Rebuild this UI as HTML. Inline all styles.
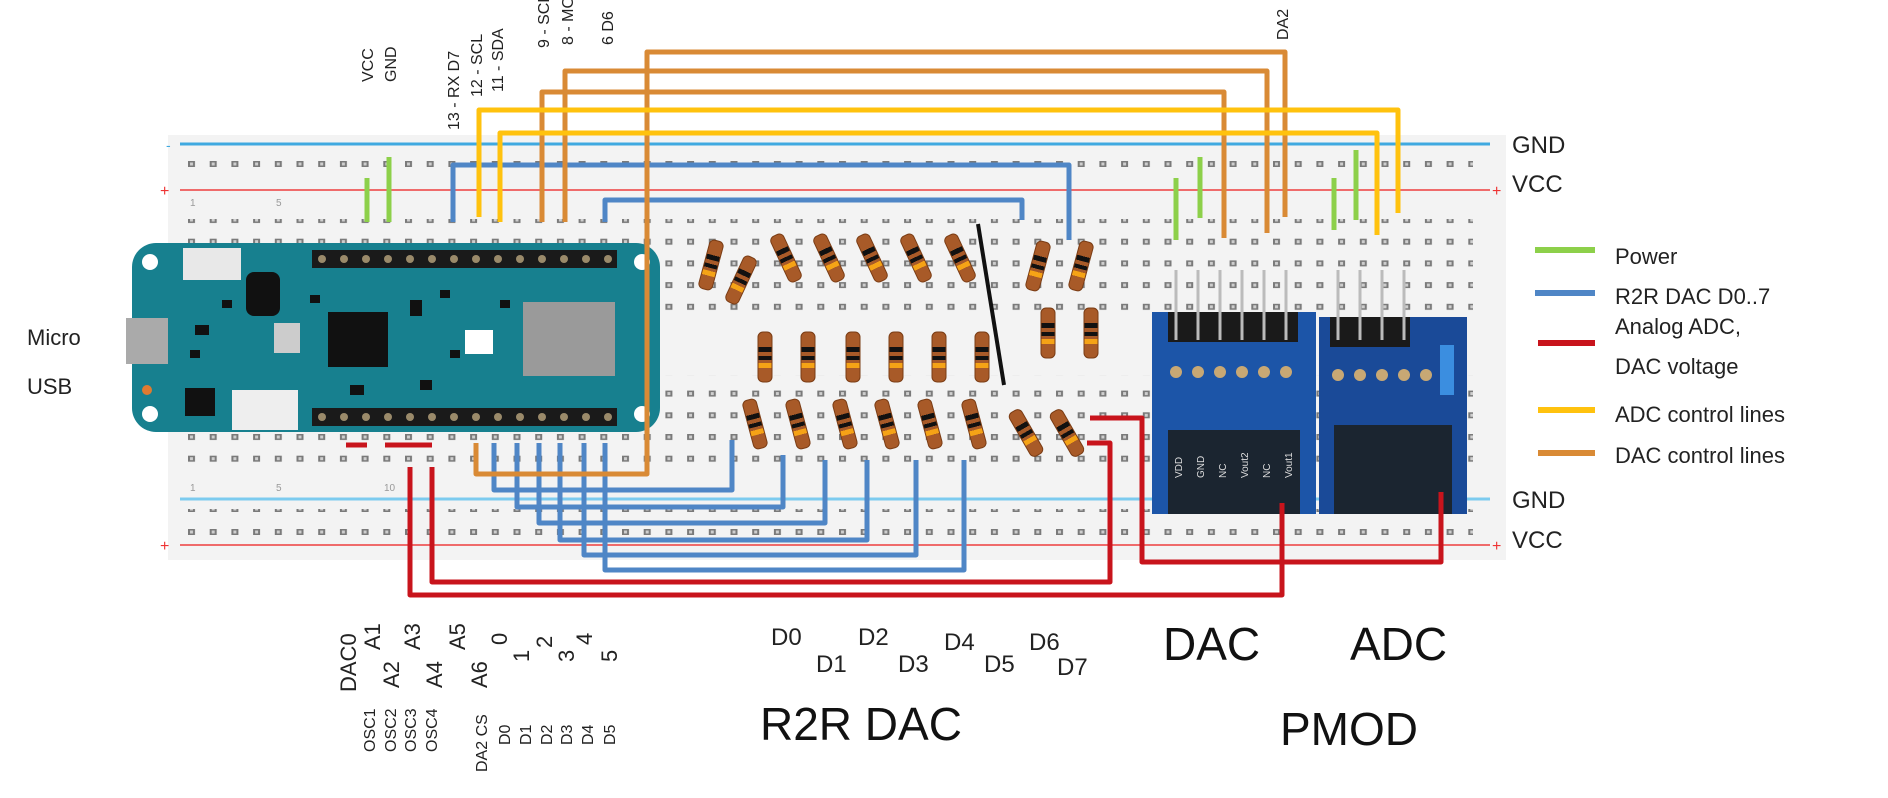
<!DOCTYPE html>
<html><head><meta charset="utf-8"><style>
html,body{margin:0;padding:0;background:#fff;}
svg{display:block;font-family:"Liberation Sans","DejaVu Sans",sans-serif;}
</style></head><body>
<svg width="1888" height="798" viewBox="0 0 1888 798" xmlns="http://www.w3.org/2000/svg">
<defs>
<pattern id="holes" x="188" y="0" width="21.7" height="21.7" patternUnits="userSpaceOnUse">
<rect x="0" y="0" width="7" height="6" fill="#7a7a7a"/><rect x="2" y="1.5" width="3" height="3" fill="#cfcfcf"/>
</pattern>
<pattern id="rh" x="188" y="0" width="21.7" height="23" patternUnits="userSpaceOnUse">
<rect x="0" y="0" width="7" height="6" fill="#7a7a7a"/><rect x="2" y="1.5" width="3" height="3" fill="#cfcfcf"/>
</pattern>
<linearGradient id="rb" x1="0" y1="0" x2="0" y2="1">
<stop offset="0" stop-color="#a85a28"/><stop offset="0.3" stop-color="#a85a28"/>
<stop offset="0.3" stop-color="#111"/><stop offset="0.4" stop-color="#111"/>
<stop offset="0.4" stop-color="#a85a28"/><stop offset="0.48" stop-color="#a85a28"/>
<stop offset="0.48" stop-color="#111"/><stop offset="0.56" stop-color="#111"/>
<stop offset="0.56" stop-color="#a85a28"/><stop offset="0.62" stop-color="#a85a28"/>
<stop offset="0.62" stop-color="#f5a316"/><stop offset="0.72" stop-color="#f5a316"/>
<stop offset="0.72" stop-color="#a85a28"/><stop offset="1" stop-color="#a85a28"/>
</linearGradient>
</defs>
<!-- breadboard -->
<rect x="168" y="135" width="1338" height="425" fill="#f3f3f3"/>
<rect x="188" y="152" width="1285" height="30" fill="url(#rh)"/>
<rect x="188" y="219" width="1285" height="95" fill="url(#holes)"/>
<rect x="188" y="375" width="1285" height="98" fill="url(#holes)"/>
<rect x="188" y="509" width="1285" height="30" fill="url(#rh)"/>
<line x1="180" y1="144" x2="1490" y2="144" stroke="#3fa9e0" stroke-width="3"/>
<line x1="180" y1="190" x2="1490" y2="190" stroke="#ef6b6b" stroke-width="2"/>
<line x1="180" y1="499" x2="1490" y2="499" stroke="#7ccbef" stroke-width="3"/>
<line x1="180" y1="545" x2="1490" y2="545" stroke="#ef6b6b" stroke-width="2"/>
<text x="166" y="150" font-size="14" fill="#3fa9e0">-</text>
<text x="160" y="196" font-size="16" fill="#e33">+</text>
<text x="160" y="551" font-size="16" fill="#e33">+</text>
<text x="1492" y="196" font-size="16" fill="#e33">+</text>
<text x="1492" y="551" font-size="16" fill="#e33">+</text>
<g font-size="10" fill="#999"><text x="190" y="206">1</text><text x="276" y="206">5</text><text x="190" y="491">1</text><text x="276" y="491">5</text><text x="384" y="491">10</text></g>

<!-- Arduino board -->
<rect x="132" y="243" width="528" height="189" rx="24" fill="#17808f"/>
<circle cx="150" cy="262" r="8" fill="#fff"/><circle cx="150" cy="414" r="8" fill="#fff"/>
<circle cx="642" cy="262" r="8" fill="#fff"/><circle cx="642" cy="414" r="8" fill="#fff"/>
<rect x="312" y="250" width="305" height="18" fill="#1a1a1a"/>
<rect x="312" y="408" width="305" height="18" fill="#1a1a1a"/>
<g fill="#9a8a6a">
<circle cx="322" cy="259" r="4"/><circle cx="344" cy="259" r="4"/><circle cx="366" cy="259" r="4"/><circle cx="388" cy="259" r="4"/><circle cx="410" cy="259" r="4"/><circle cx="432" cy="259" r="4"/><circle cx="454" cy="259" r="4"/><circle cx="476" cy="259" r="4"/><circle cx="498" cy="259" r="4"/><circle cx="520" cy="259" r="4"/><circle cx="542" cy="259" r="4"/><circle cx="564" cy="259" r="4"/><circle cx="586" cy="259" r="4"/><circle cx="608" cy="259" r="4"/>
<circle cx="322" cy="417" r="4"/><circle cx="344" cy="417" r="4"/><circle cx="366" cy="417" r="4"/><circle cx="388" cy="417" r="4"/><circle cx="410" cy="417" r="4"/><circle cx="432" cy="417" r="4"/><circle cx="454" cy="417" r="4"/><circle cx="476" cy="417" r="4"/><circle cx="498" cy="417" r="4"/><circle cx="520" cy="417" r="4"/><circle cx="542" cy="417" r="4"/><circle cx="564" cy="417" r="4"/><circle cx="586" cy="417" r="4"/><circle cx="608" cy="417" r="4"/>
</g>
<rect x="183" y="248" width="58" height="32" fill="#e8e8e8"/>
<rect x="246" y="272" width="34" height="44" rx="8" fill="#111"/>
<rect x="328" y="312" width="60" height="55" fill="#111"/>
<rect x="523" y="302" width="92" height="74" fill="#9a9a9a"/>
<rect x="465" y="330" width="28" height="24" fill="#fff"/>
<rect x="274" y="323" width="26" height="30" fill="#ccc"/>
<rect x="126" y="318" width="42" height="46" fill="#aaa"/>
<rect x="232" y="390" width="66" height="40" fill="#eee"/>
<rect x="185" y="388" width="30" height="28" fill="#111"/>
<circle cx="147" cy="390" r="5" fill="#e07a30"/>
<g fill="#111"><rect x="195" y="325" width="14" height="10"/><rect x="222" y="300" width="10" height="8"/><rect x="410" y="300" width="12" height="16"/><rect x="440" y="290" width="10" height="8"/><rect x="450" y="350" width="10" height="8"/><rect x="500" y="300" width="10" height="8"/><rect x="350" y="385" width="14" height="10"/><rect x="420" y="380" width="12" height="10"/><rect x="310" y="295" width="10" height="8"/><rect x="190" y="350" width="10" height="8"/></g>

<!-- resistors -->
<g fill="url(#rb)" stroke="#7a3c14" stroke-width="1">
<rect x="-7" y="-25" width="14" height="50" rx="5" transform="translate(711,265) rotate(15)"/>
<rect x="-7" y="-25" width="14" height="50" rx="5" transform="translate(741,280) rotate(25)"/>
<rect x="-7" y="-25" width="14" height="50" rx="5" transform="translate(786,258) rotate(-25)"/>
<rect x="-7" y="-25" width="14" height="50" rx="5" transform="translate(829,258) rotate(-25)"/>
<rect x="-7" y="-25" width="14" height="50" rx="5" transform="translate(872,258) rotate(-25)"/>
<rect x="-7" y="-25" width="14" height="50" rx="5" transform="translate(916,258) rotate(-25)"/>
<rect x="-7" y="-25" width="14" height="50" rx="5" transform="translate(960,258) rotate(-25)"/>
<rect x="-7" y="-25" width="14" height="50" rx="5" transform="translate(1038,266) rotate(15)"/>
<rect x="-7" y="-25" width="14" height="50" rx="5" transform="translate(1081,266) rotate(15)"/>
<rect x="-7" y="-25" width="14" height="50" rx="5" transform="translate(765,357)"/>
<rect x="-7" y="-25" width="14" height="50" rx="5" transform="translate(808,357)"/>
<rect x="-7" y="-25" width="14" height="50" rx="5" transform="translate(853,357)"/>
<rect x="-7" y="-25" width="14" height="50" rx="5" transform="translate(896,357)"/>
<rect x="-7" y="-25" width="14" height="50" rx="5" transform="translate(939,357)"/>
<rect x="-7" y="-25" width="14" height="50" rx="5" transform="translate(982,357)"/>
<rect x="-7" y="-25" width="14" height="50" rx="5" transform="translate(1048,333)"/>
<rect x="-7" y="-25" width="14" height="50" rx="5" transform="translate(1091,333)"/>
<rect x="-7" y="-25" width="14" height="50" rx="5" transform="translate(755,424) rotate(-15)"/>
<rect x="-7" y="-25" width="14" height="50" rx="5" transform="translate(798,424) rotate(-15)"/>
<rect x="-7" y="-25" width="14" height="50" rx="5" transform="translate(845,424) rotate(-15)"/>
<rect x="-7" y="-25" width="14" height="50" rx="5" transform="translate(887,424) rotate(-15)"/>
<rect x="-7" y="-25" width="14" height="50" rx="5" transform="translate(930,424) rotate(-15)"/>
<rect x="-7" y="-25" width="14" height="50" rx="5" transform="translate(974,424) rotate(-15)"/>
<rect x="-7" y="-25" width="14" height="50" rx="5" transform="translate(1026,433) rotate(-30)"/>
<rect x="-7" y="-25" width="14" height="50" rx="5" transform="translate(1067,433) rotate(-30)"/>
</g>

<!-- PMOD boards -->
<rect x="1152" y="312" width="164" height="202" fill="#1c55a8"/>
<rect x="1168" y="430" width="132" height="84" fill="#1b2530"/>
<rect x="1319" y="317" width="148" height="197" fill="#1a4a98"/>
<rect x="1334" y="425" width="118" height="89" fill="#1b2530"/>
<rect x="1168" y="312" width="130" height="30" fill="#1a1a1a"/>
<rect x="1330" y="317" width="80" height="30" fill="#1a1a1a"/>
<rect x="1440" y="345" width="14" height="50" fill="#3b8ee0"/>
<g stroke="#bbb" stroke-width="3">
<line x1="1176" y1="270" x2="1176" y2="340"/><line x1="1198" y1="270" x2="1198" y2="340"/><line x1="1220" y1="270" x2="1220" y2="340"/><line x1="1242" y1="270" x2="1242" y2="340"/><line x1="1264" y1="270" x2="1264" y2="340"/><line x1="1286" y1="270" x2="1286" y2="340"/>
<line x1="1338" y1="270" x2="1338" y2="340"/><line x1="1360" y1="270" x2="1360" y2="340"/><line x1="1382" y1="270" x2="1382" y2="340"/><line x1="1404" y1="270" x2="1404" y2="340"/>
</g>
<g fill="#c8a874"><circle cx="1176" cy="372" r="6"/><circle cx="1198" cy="372" r="6"/><circle cx="1220" cy="372" r="6"/><circle cx="1242" cy="372" r="6"/><circle cx="1264" cy="372" r="6"/><circle cx="1286" cy="372" r="6"/>
<circle cx="1338" cy="375" r="6"/><circle cx="1360" cy="375" r="6"/><circle cx="1382" cy="375" r="6"/><circle cx="1404" cy="375" r="6"/><circle cx="1426" cy="375" r="6"/></g>
<g font-size="10" fill="#ddd">
<text transform="translate(1182,478) rotate(-90)">VDD</text><text transform="translate(1204,478) rotate(-90)">GND</text><text transform="translate(1226,478) rotate(-90)">NC</text><text transform="translate(1248,478) rotate(-90)">Vout2</text><text transform="translate(1270,478) rotate(-90)">NC</text><text transform="translate(1292,478) rotate(-90)">Vout1</text>
</g>

<!-- wires -->
<g fill="none" stroke-width="5" stroke-linejoin="round">
<g stroke="#8dd04a">
<path d="M367 178V222"/><path d="M389 157V222"/><path d="M1176 178V240"/><path d="M1200 157V218"/><path d="M1334 178V230"/><path d="M1356 150V220"/>
</g>
<g stroke="#4f86c6">
<path d="M453 222V165H1069V240"/>
<path d="M605 222V200H1022V220"/>
<path d="M494 443V490H732V440"/>
<path d="M517 443V507H783V455"/>
<path d="M539 443V523H825V460"/>
<path d="M560 443V540H867V460"/>
<path d="M584 443V555H916V460"/>
<path d="M605 443V570H964V460"/>
</g>
<g stroke="#d98a35">
<path d="M476 443V474H647V52H1285V217"/>
<path d="M565 222V71H1267V233"/>
<path d="M542 222V92H1224V238"/>
</g>
<g stroke="#ffc20e">
<path d="M479 217V110H1398V213"/>
<path d="M500 222V133H1377V235"/>
</g>
<g stroke="#c8141c">
<path d="M410 467V595H1282V503"/>
<path d="M432 467V582H1110V443H1087"/>
<path d="M1090 418H1142V562H1441V492"/>
<path d="M346 445H367"/><path d="M385 445H432"/>
</g>
<path d="M978 224L1004 385" stroke="#111" stroke-width="4"/>
</g>

<!-- top labels -->
<g font-size="16" fill="#222">
<text transform="translate(373,82) rotate(-90)">VCC</text>
<text transform="translate(396,82) rotate(-90)">GND</text>
<text transform="translate(459,130) rotate(-90)">13 - RX   D7</text>
<text transform="translate(482,97) rotate(-90)">12 - SCL</text>
<text transform="translate(503,92) rotate(-90)">11 - SDA</text>
<text transform="translate(549,48) rotate(-90)">9 - SCK</text>
<text transform="translate(573,45) rotate(-90)">8 - MOSI</text>
<text transform="translate(613,45) rotate(-90)">6  D6</text>
<text transform="translate(1288,40) rotate(-90)">DA2</text>
</g>

<!-- right labels -->
<g font-size="24" fill="#222">
<text x="1512" y="153">GND</text><text x="1512" y="192">VCC</text>
<text x="1512" y="508">GND</text><text x="1512" y="548">VCC</text>
</g>
<g font-size="22" fill="#222"><text x="27" y="345">Micro</text><text x="27" y="394">USB</text></g>

<!-- legend -->
<g stroke-width="6">
<line x1="1535" y1="250" x2="1595" y2="250" stroke="#8dd04a"/>
<line x1="1535" y1="293" x2="1595" y2="293" stroke="#4f86c6"/>
<line x1="1538" y1="343" x2="1595" y2="343" stroke="#c8141c"/>
<line x1="1538" y1="410" x2="1595" y2="410" stroke="#ffc20e"/>
<line x1="1538" y1="453" x2="1595" y2="453" stroke="#d98a35"/>
</g>
<g font-size="22" fill="#222">
<text x="1615" y="264">Power</text>
<text x="1615" y="304">R2R DAC D0..7</text>
<text x="1615" y="334">Analog ADC,</text>
<text x="1615" y="374">DAC voltage</text>
<text x="1615" y="422">ADC control lines</text>
<text x="1615" y="463">DAC control lines</text>
</g>

<!-- bottom rotated labels -->
<g font-size="22" fill="#222">
<text transform="translate(356,692) rotate(-90)">DAC0</text>
<text transform="translate(380,650) rotate(-90)">A1</text>
<text transform="translate(399,688) rotate(-90)">A2</text>
<text transform="translate(420,650) rotate(-90)">A3</text>
<text transform="translate(442,688) rotate(-90)">A4</text>
<text transform="translate(465,650) rotate(-90)">A5</text>
<text transform="translate(487,688) rotate(-90)">A6</text>
<text transform="translate(507,645) rotate(-90)">0</text>
<text transform="translate(529,662) rotate(-90)">1</text>
<text transform="translate(552,648) rotate(-90)">2</text>
<text transform="translate(574,662) rotate(-90)">3</text>
<text transform="translate(592,645) rotate(-90)">4</text>
<text transform="translate(617,662) rotate(-90)">5</text>
</g>
<g font-size="16" fill="#222">
<text transform="translate(375,752) rotate(-90)">OSC1</text>
<text transform="translate(396,752) rotate(-90)">OSC2</text>
<text transform="translate(416,752) rotate(-90)">OSC3</text>
<text transform="translate(437,752) rotate(-90)">OSC4</text>
<text transform="translate(487,772) rotate(-90)">DA2 CS</text>
<text transform="translate(510,745) rotate(-90)">D0</text>
<text transform="translate(531,745) rotate(-90)">D1</text>
<text transform="translate(552,745) rotate(-90)">D2</text>
<text transform="translate(572,745) rotate(-90)">D3</text>
<text transform="translate(593,745) rotate(-90)">D4</text>
<text transform="translate(615,745) rotate(-90)">D5</text>
</g>
<g font-size="24" fill="#222">
<text x="771" y="645">D0</text><text x="816" y="672">D1</text>
<text x="858" y="645">D2</text><text x="898" y="672">D3</text>
<text x="944" y="650">D4</text><text x="984" y="672">D5</text>
<text x="1029" y="650">D6</text><text x="1057" y="675">D7</text>
</g>
<g font-size="46" fill="#111">
<text x="760" y="740">R2R DAC</text>
<text x="1163" y="660">DAC</text>
<text x="1350" y="660">ADC</text>
<text x="1280" y="745">PMOD</text>
</g>
</svg>
</body></html>
